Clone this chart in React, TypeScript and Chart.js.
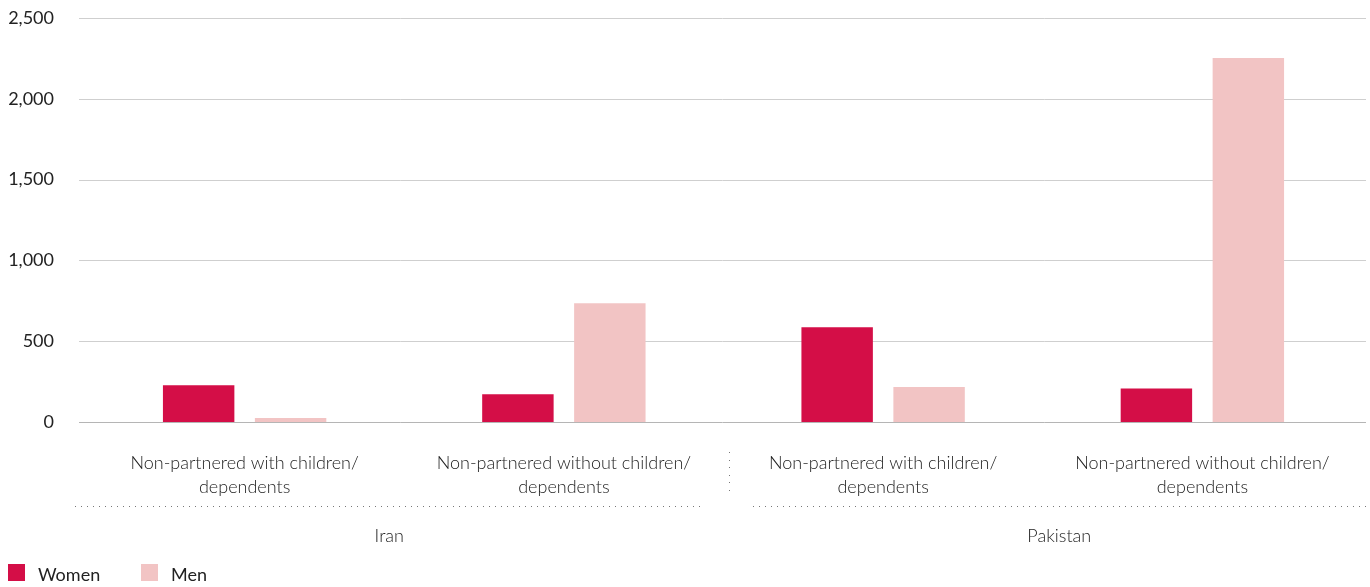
import React, { useEffect, useRef } from 'react';
import { Chart, registerables } from 'chart.js';

Chart.register(...registerables);

const categories: string[][] = [
  ['Non-partnered with children/', 'dependents'],
  ['Non-partnered without children/', 'dependents'],
  ['Non-partnered with children/', 'dependents'],
  ['Non-partnered without children/', 'dependents'],
];
const groups = ['Iran', 'Pakistan'];
const seriesNames = ['Women', 'Men'];
const women = [227, 172, 587, 208];
const men = [25, 735, 216, 2253];
const yTicks = [0, 500, 1000, 1500, 2000, 2500];
const seriesColors = ['#D40E47', '#F2C4C4'];

const FONT = 'Lato, "Open Sans", sans-serif';

function dotsH(ctx: CanvasRenderingContext2D, x0: number, x1: number, y: number) {
  for (let x = x0; x <= x1; x += 6) ctx.fillRect(Math.round(x), Math.round(y), 1, 1);
}
function dotsV(ctx: CanvasRenderingContext2D, x: number, y0: number, y1: number) {
  for (let y = y0; y <= y1; y += 7.5) ctx.fillRect(Math.round(x), Math.round(y), 1, 1);
}

const GRID_LEFT = 79;
const GRID_RIGHT = 1366;

const gridPlugin = {
  id: 'wideGrid',
  beforeDatasetsDraw(chart: any) {
    const ctx: CanvasRenderingContext2D = chart.ctx;
    const ys = chart.scales.y;
    ctx.save();
    ctx.lineWidth = 1;
    yTicks.forEach((v) => {
      const y = Math.round(ys.getPixelForValue(v)) + 0.5;
      ctx.strokeStyle = v === 0 ? '#b5b5b5' : '#cfcfcf';
      ctx.beginPath();
      ctx.moveTo(GRID_LEFT, y);
      ctx.lineTo(GRID_RIGHT, y);
      ctx.stroke();
    });
    ctx.restore();
  },
};

const extrasPlugin = {
  id: 'extras',
  afterDraw(chart: any) {
    const ctx: CanvasRenderingContext2D = chart.ctx;
    const xs = chart.scales.x;
    const area = chart.chartArea;
    const boundary = (xs.getPixelForTick(1) + xs.getPixelForTick(2)) / 2;
    ctx.save();
    ctx.fillStyle = '#777';
    const ranges = [
      [area.left - 10, boundary - 20],
      [boundary + 29, GRID_RIGHT],
    ];
    ranges.forEach((r) => dotsH(ctx, r[0], r[1], 506));
    dotsV(ctx, boundary + 5, 452, 490);
    ctx.fillStyle = '#222';
    ctx.font = `300 18px ${FONT}`;
    ctx.textAlign = 'center';
    ctx.textBaseline = 'middle';
    groups.forEach((g, i) => {
      ctx.fillText(g, (ranges[i][0] + ranges[i][1]) / 2, 536);
    });
    ctx.textAlign = 'left';
    ctx.font = `18px ${FONT}`;
    const legendX = [8, 141];
    seriesNames.forEach((name, i) => {
      ctx.fillStyle = seriesColors[i];
      ctx.fillRect(legendX[i], 564, 17, 17);
      ctx.fillStyle = '#222';
      ctx.fillText(name, legendX[i] + 30, 575);
    });
    ctx.restore();
  },
};

export default function App() {
  const ref = useRef<HTMLCanvasElement>(null);
  useEffect(() => {
    if (!ref.current) return;
    const chart = new Chart(ref.current, {
      type: 'bar',
      data: {
        labels: categories,
        datasets: [
          {
            label: seriesNames[0],
            data: women,
            backgroundColor: seriesColors[0],
            borderWidth: 0,
            barPercentage: 0.777,
            categoryPercentage: 0.576,
          },
          {
            label: seriesNames[1],
            data: men,
            backgroundColor: seriesColors[1],
            borderWidth: 0,
            barPercentage: 0.777,
            categoryPercentage: 0.576,
          },
        ],
      },
      options: {
        animation: false,
        responsive: false,
        maintainAspectRatio: false,
        layout: { padding: { top: 18, left: 0, right: 8, bottom: 0 } },
        plugins: {
          legend: { display: false },
          tooltip: { enabled: false },
        },
        scales: {
          x: {
            grid: { display: false, drawTicks: false },
            border: { display: false },
            ticks: {
              padding: 29,
              color: '#222',
              font: { family: FONT, size: 18, weight: 300 as any, lineHeight: 1.33 },
              maxRotation: 0,
              autoSkip: false,
            },
            afterFit(scale: any) {
              scale.height = 165;
              scale.paddingLeft = 0;
              scale.paddingRight = 0;
            },
          },
          y: {
            min: 0,
            max: 2500,
            afterBuildTicks(scale: any) {
              scale.ticks = yTicks.map((v) => ({ value: v }));
            },
            grid: { display: false, drawTicks: false },
            border: { display: false },
            ticks: {
              padding: 31,
              color: '#222',
              font: { family: FONT, size: 18 },
              callback: (v: any) => Number(v).toLocaleString('en-US'),
            },
            afterFit(scale: any) {
              scale.width = 85;
              scale.paddingTop = 0;
              scale.paddingBottom = 0;
            },
          },
        },
      },
      plugins: [gridPlugin, extrasPlugin],
    });
    return () => chart.destroy();
  }, []);
  return (
    <div style={{ position: 'absolute', left: 0, top: 0, width: 1370, height: 587 }}>
      <canvas ref={ref} width={1370} height={587} style={{ display: 'block' }} />
    </div>
  );
}
